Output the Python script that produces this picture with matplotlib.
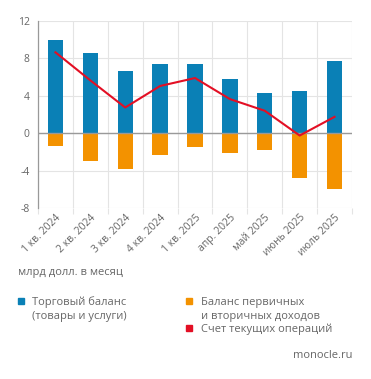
import matplotlib
matplotlib.use("Agg")
import matplotlib.pyplot as plt
import numpy as np

categories = ["1 кв. 2024", "2 кв. 2024", "3 кв. 2024", "4 кв. 2024", "1 кв. 2025",
              "апр. 2025", "май 2025", "июнь 2025", "июль 2025"]
trade = [10.0, 8.6, 6.6, 7.4, 7.4, 5.8, 4.3, 4.5, 7.7]
income = [-1.35, -2.95, -3.85, -2.35, -1.45, -2.15, -1.85, -4.75, -5.95]
current = [8.65, 5.65, 2.75, 5.05, 5.9, 3.65, 2.4, -0.25, 1.75]
yticks = [-8, -4, 0, 4, 8, 12]

BLUE = "#0a80b6"
ORANGE = "#f39200"
RED = "#e30f24"
GREY = "#666666"
GRID = "#e4e4e4"

plt.rcParams['font.family'] = ['Open Sans', 'DejaVu Sans']

fig = plt.figure(figsize=(3.71, 3.79), dpi=100)
ax = fig.add_axes([38/371, 1-208/379, (352-38)/371, (208-21)/379])

x = np.arange(len(categories))
ax.bar(x, trade, width=0.44, color=BLUE, zorder=2)
ax.bar(x, income, width=0.44, color=ORANGE, zorder=2)
ax.plot(x, current, color=RED, lw=1.5, zorder=3)

ax.set_xlim(-0.5, len(categories)-0.5)
ax.set_ylim(-8, 12)
ax.set_yticks(yticks)
ax.set_yticklabels([str(v) for v in yticks])
ax.set_xticks(np.arange(len(categories)+1)-0.5, minor=False)
ax.set_xticklabels([])
ax.set_xticks(x, minor=True)
ax.set_xticklabels(categories, minor=True, rotation=45, ha='right',
                   rotation_mode='anchor', fontsize=7.5, color=GREY)
ax.tick_params(axis='x', which='major', length=4, color=GRID, width=0.8)
ax.tick_params(axis='x', which='minor', length=0, pad=3)
ax.tick_params(axis='y', length=0, labelsize=7.5, labelcolor=GREY, pad=6)

ax.grid(True, which='major', color=GRID, lw=0.8, zorder=0)
ax.axhline(0, color="#999999", lw=1, zorder=2.5)
for s in ['top', 'right', 'bottom']:
    ax.spines[s].set_visible(False)
ax.spines['left'].set_color("#999999")
ax.spines['left'].set_linewidth(0.9)

fs = 8
fig.text(18/371, 1-273/379, "млрд долл. в месяц", fontsize=fs, color=GREY, va='center')

def sq(xp, yp, c):
    fig.patches.append(plt.Rectangle((xp/371, 1-(yp+3)/379), 6/371, 6/379,
                                     transform=fig.transFigure, color=c, figure=fig))

sq(18, 301, BLUE)
fig.text(32/371, 1-302/379, "Торговый баланс", fontsize=fs, color=GREY, va='center')
fig.text(32/371, 1-316/379, "(товары и услуги)", fontsize=fs, color=GREY, va='center')
sq(186, 301, ORANGE)
fig.text(201/371, 1-302/379, "Баланс первичных", fontsize=fs, color=GREY, va='center')
fig.text(201/371, 1-316/379, "и вторичных доходов", fontsize=fs, color=GREY, va='center')
sq(186, 328, RED)
fig.text(201/371, 1-329/379, "Счет текущих операций", fontsize=fs, color=GREY, va='center')
fig.text(352/371, 1-356/379, "monocle.ru", fontsize=fs, color=GREY, va='center', ha='right')

fig.savefig("out.png", dpi=100, facecolor='white')
